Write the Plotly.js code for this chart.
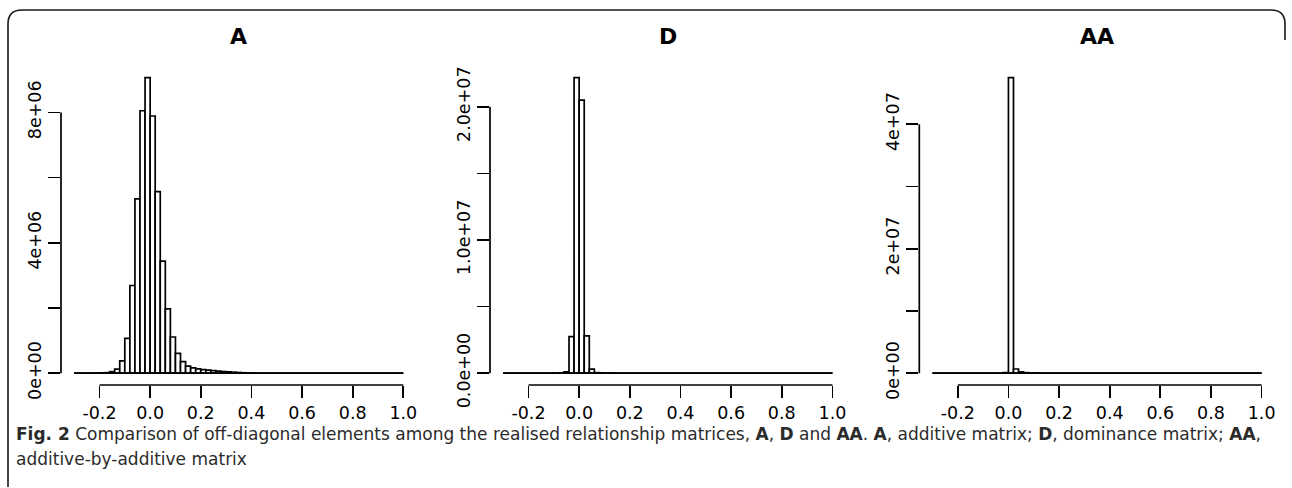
<!DOCTYPE html>
<html>
<head>
<meta charset="utf-8">
<script src="https://cdn.plot.ly/plotly-3.0.1.min.js"></script>
<style>
  html, body { margin: 0; padding: 0; background: #ffffff; }
  #chart { width: 1292px; height: 488px; }
</style>
</head>
<body>
<div id="chart"></div>
<script>
// ---- Data ----
// Left edges of the histogram bins (bin width 0.02)
const binLeft = [
  -0.30, -0.28, -0.26, -0.24, -0.22, -0.20, -0.18, -0.16, -0.14, -0.12,
  -0.10, -0.08, -0.06, -0.04, -0.02, 0.00, 0.02, 0.04, 0.06, 0.08,
  0.10, 0.12, 0.14, 0.16, 0.18, 0.20, 0.22, 0.24, 0.26, 0.28,
  0.30, 0.32, 0.34, 0.36, 0.38, 0.40, 0.42, 0.44, 0.46, 0.48,
  0.50, 0.52, 0.54, 0.56, 0.58, 0.60, 0.62, 0.64, 0.66, 0.68,
  0.70, 0.72, 0.74, 0.76, 0.78, 0.80, 0.82, 0.84, 0.86, 0.88,
  0.90, 0.92, 0.94, 0.96, 0.98
];
const binWidth = 0.02;

// Counts per bin: panel A (additive matrix)
const countsA = [
  0, 0, 0, 1000, 3000, 8000, 15000, 45000, 125000, 380000,
  1070000, 2690000, 5350000, 8050000, 9070000, 7890000, 5570000, 3440000, 1970000, 1110000,
  610000, 355000, 215000, 160000, 130000, 110000, 95000, 80000, 65000, 50000,
  40000, 30000, 20000, 12000, 6000, 2000, 0, 0, 0, 0,
  0, 0, 0, 0, 0, 0, 0, 0, 0, 0,
  0, 0, 0, 0, 0, 0, 0, 0, 0, 0,
  0, 0, 0, 0, 0
];
// Counts per bin: panel D (dominance matrix)
const countsD = [
  0, 0, 0, 0, 0, 0, 0, 0, 0, 0,
  3000, 20000, 100000, 2750000, 22200000, 20500000, 2800000, 300000, 40000, 20000,
  10000, 5000, 0, 0, 0, 0, 0, 0, 0, 0,
  0, 0, 0, 0, 0, 0, 0, 0, 0, 0,
  0, 0, 0, 0, 0, 0, 0, 0, 0, 0,
  0, 0, 0, 0, 0, 0, 0, 0, 0, 0,
  0, 0, 0, 0, 0
];
// Counts per bin: panel AA (additive-by-additive matrix)
const countsAA = [
  0, 0, 0, 0, 0, 0, 0, 0, 0, 0,
  0, 0, 0, 5000, 80000, 47500000, 670000, 200000, 80000, 40000,
  20000, 10000, 5000, 0, 0, 0, 0, 0, 0, 0,
  0, 0, 0, 0, 0, 0, 0, 0, 0, 0,
  0, 0, 0, 0, 0, 0, 0, 0, 0, 0,
  0, 0, 0, 0, 0, 0, 0, 0, 0, 0,
  0, 0, 0, 0, 0
];

const panelTitles = ["A", "D", "AA"];

// x-axis ticks (shared by all panels)
const xTickVals = [-0.2, 0.0, 0.2, 0.4, 0.6, 0.8, 1.0];
const xTickText = ["-0.2", "0.0", "0.2", "0.4", "0.6", "0.8", "1.0"];

// y-axis ticks per panel (R skips some labels)
const yTickValsA = [0, 2e6, 4e6, 6e6, 8e6];
const yTickTextA = ["0e+00", "", "4e+06", "", "8e+06"];
const yTickValsD = [0, 5e6, 1e7, 1.5e7, 2e7];
const yTickTextD = ["0.0e+00", "", "1.0e+07", "", "2.0e+07"];
const yTickValsAA = [0, 1e7, 2e7, 3e7, 4e7];
const yTickTextAA = ["0e+00", "", "2e+07", "", "4e+07"];

const captionLine1 = "<b>Fig. 2</b> Comparison of off-diagonal elements among the realised relationship matrices, <b>A</b>, <b>D</b> and <b>AA</b>. <b>A</b>, additive matrix; <b>D</b>, dominance matrix; <b>AA</b>,";
const captionLine2 = "additive-by-additive matrix";

// ---- Layout geometry (pixels in the 1292x488 page) ----
const W = 1292, H = 488;
const panelPx = [[61, 416.5], [490, 845.6], [919.3, 1274.8]];
const plotTopPx = 65.7, plotBottomPx = 385;

const FONT = "DejaVu Sans, Liberation Sans, Arial, sans-serif";
const LW = 1.7;

const countsAll = [countsA, countsD, countsAA];
const yTicksAll = [[yTickValsA, yTickTextA], [yTickValsD, yTickTextD], [yTickValsAA, yTickTextAA]];

const traces = [];
const shapes = [];
const annotations = [];
const layout = {
  width: W, height: H,
  margin: {l: 0, r: 0, t: 0, b: 0},
  paper_bgcolor: "#ffffff",
  plot_bgcolor: "rgba(0,0,0,0)",
  showlegend: false,
  font: {family: FONT, size: 17, color: "#000000"},
  bargap: 0
};

const firstEdge = binLeft[0];
const lastEdge = binLeft[binLeft.length - 1] + binWidth;
const xSpan = lastEdge - firstEdge;
const xRange = [firstEdge - 0.04 * xSpan, lastEdge + 0.04 * xSpan];
const centers = binLeft.map(b => b + binWidth / 2);

for (let p = 0; p < 3; p++) {
  const sfx = p === 0 ? "" : String(p + 1);
  const xa = "x" + sfx, ya = "y" + sfx;
  const counts = countsAll[p];
  const ymax = Math.max(...counts);
  // baseline of the histogram (zero-count bins drawn flat as in R)
  traces.push({
    type: "scatter", mode: "lines",
    x: [firstEdge, lastEdge], y: [0, 0],
    xaxis: xa, yaxis: ya,
    line: {color: "#000000", width: LW},
    hoverinfo: "skip"
  });
  traces.push({
    type: "bar",
    x: centers, y: counts, width: binWidth,
    xaxis: xa, yaxis: ya,
    marker: {color: "#ffffff", line: {color: "#000000", width: LW}},
    hoverinfo: "x+y"
  });
  const dom = [panelPx[p][0] / W, panelPx[p][1] / W];
  const ydom = [1 - plotBottomPx / H, 1 - plotTopPx / H];
  layout["xaxis" + sfx] = {
    domain: dom, anchor: ya, range: xRange,
    tickmode: "array", tickvals: xTickVals, ticktext: xTickText,
    ticks: "outside", ticklen: 12, tickwidth: LW, tickcolor: "#000000",
    showline: false, showgrid: false, zeroline: false,
    tickfont: {family: FONT, size: 17.5, color: "#000000"},
    fixedrange: true
  };
  const yt = yTicksAll[p];
  layout["yaxis" + sfx] = {
    domain: ydom, anchor: xa, range: [-0.04 * ymax, 1.04 * ymax],
    tickmode: "array", tickvals: yt[0], ticktext: yt[1],
    ticks: "outside", ticklen: 12, tickwidth: LW, tickcolor: "#000000",
    tickangle: -90,
    showline: false, showgrid: false, zeroline: false,
    tickfont: {family: FONT, size: 17.5, color: "#000000"},
    fixedrange: true
  };
  // R-style axis lines spanning only the tick range
  shapes.push({
    type: "line", xref: xa, yref: ya + " domain",
    x0: xTickVals[0], x1: xTickVals[xTickVals.length - 1], y0: 0, y1: 0,
    line: {color: "#000000", width: LW}
  });
  shapes.push({
    type: "line", xref: xa + " domain", yref: ya,
    x0: 0, x1: 0, y0: yt[0][0], y1: yt[0][yt[0].length - 1],
    line: {color: "#000000", width: LW}
  });
  annotations.push({
    text: "<b>" + panelTitles[p] + "</b>",
    xref: "paper", yref: "paper",
    x: (dom[0] + dom[1]) / 2, y: 1 - 36.7 / H,
    xanchor: "center", yanchor: "middle", showarrow: false,
    font: {family: FONT, size: 22, color: "#000000"}
  });
}

// Caption
const CAPFONT = "DejaVu Sans, Open Sans, sans-serif";
annotations.push({
  text: captionLine1, xref: "paper", yref: "paper",
  x: 14 / W, y: 1 - 434 / H, xanchor: "left", yanchor: "middle", align: "left",
  showarrow: false, font: {family: CAPFONT, size: 17, color: "#2b2b2b"}
});
annotations.push({
  text: captionLine2, xref: "paper", yref: "paper",
  x: 14 / W, y: 1 - 459 / H, xanchor: "left", yanchor: "middle", align: "left",
  showarrow: false, font: {family: CAPFONT, size: 17, color: "#2b2b2b"}
});

// Rounded figure frame (top, left, corners)
const px = v => v / W, py = v => 1 - v / H;
const framePath =
  "M " + px(8) + "," + py(487) +
  " L " + px(8) + "," + py(24) +
  " Q " + px(8) + "," + py(10) + " " + px(22) + "," + py(10) +
  " L " + px(1271) + "," + py(10) +
  " Q " + px(1285) + "," + py(10) + " " + px(1285) + "," + py(24) +
  " L " + px(1285) + "," + py(40);
shapes.push({
  type: "path", xref: "paper", yref: "paper", path: framePath,
  line: {color: "#1a1a1a", width: 1.6}
});

layout.shapes = shapes;
layout.annotations = annotations;

Plotly.newPlot("chart", traces, layout, {displayModeBar: false, staticPlot: true});
</script>
</body>
</html>
